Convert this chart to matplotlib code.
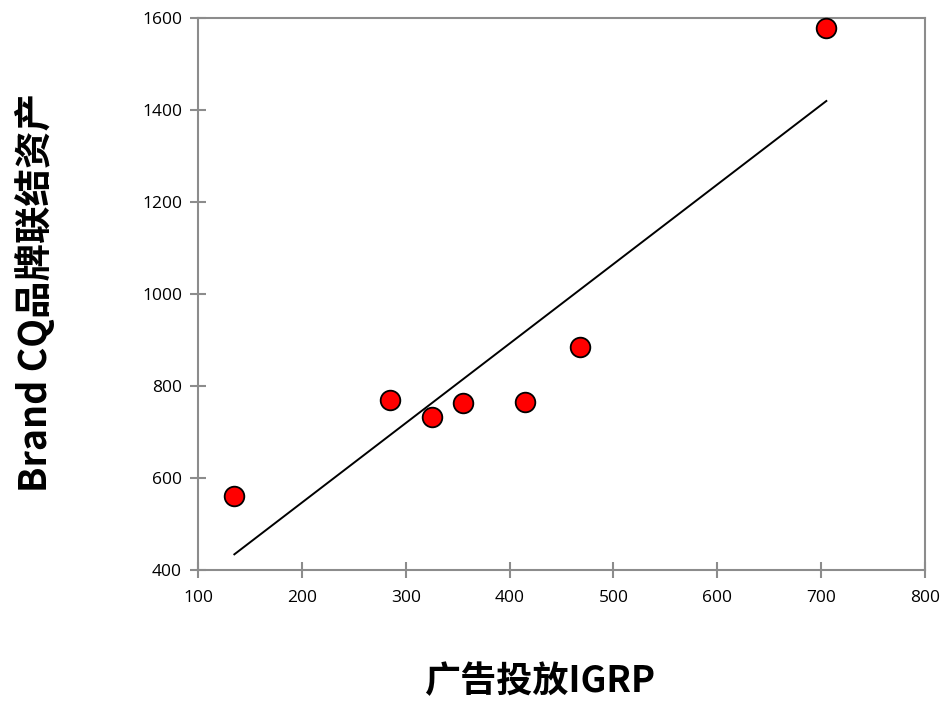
import numpy as np
import matplotlib
matplotlib.use('Agg')
import matplotlib.pyplot as plt

plt.rcParams['font.family'] = ['Noto Sans CJK SC', 'DejaVu Sans']

grp = [135, 285, 325, 355, 415, 468, 705]
cq = [560, 770, 732, 762, 765, 885, 1578]
xticks = [100, 200, 300, 400, 500, 600, 700, 800]
yticks = [400, 600, 800, 1000, 1200, 1400, 1600]

fig = plt.figure(figsize=(9.42, 7.02), dpi=100)
ax = fig.add_axes([198 / 942, 1 - 570 / 702, 727 / 942, 552 / 702])

# linear trend line through the points
k, b = np.polyfit(grp, cq, 1)
xs = np.array([min(grp), max(grp)])
ax.plot(xs, k * xs + b, color='black', lw=1.4, zorder=2)

ax.scatter(grp, cq, s=200, color='#ff0000', edgecolors='black',
           linewidths=1.3, zorder=3, clip_on=False)

ax.set_xlim(100, 800)
ax.set_ylim(400, 1600)
ax.set_xticks(xticks)
ax.set_yticks(yticks)
for sp in ax.spines.values():
    sp.set_color('#8c8c8c')
    sp.set_linewidth(1.5)
ax.tick_params(direction='inout', length=11, width=1.5, color='#8c8c8c',
               labelsize=12.5)
ax.tick_params(axis='x', pad=9)
ax.tick_params(axis='y', pad=6)
for lab in ax.get_xticklabels() + ax.get_yticklabels():
    lab.set_fontfamily(['Open Sans', 'DejaVu Sans'])

fig.text(35 / 942, 1 - 293 / 702, 'Brand CQ品牌联结资产', rotation=90,
         ha='center', va='center', fontsize=27, fontweight='bold')
fig.text(540 / 942, 1 - 682 / 702, '广告投放IGRP',
         ha='center', va='center', fontsize=26, fontweight='bold')

fig.savefig('out.png', dpi=100)
